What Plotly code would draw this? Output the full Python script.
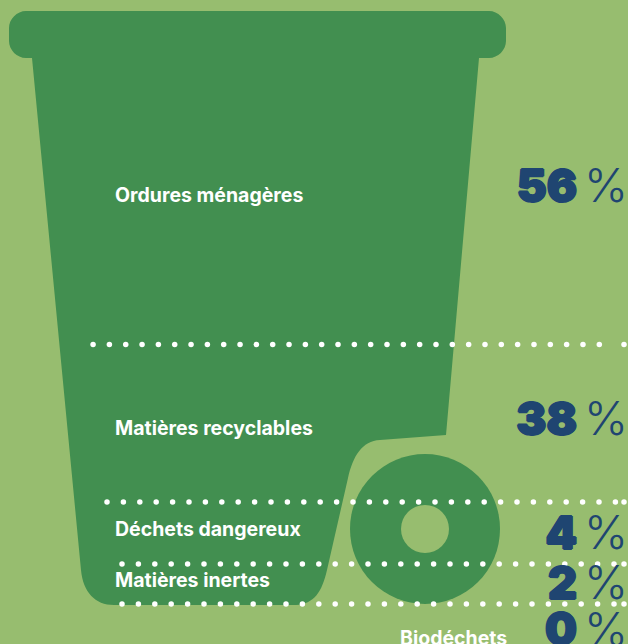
import plotly.graph_objects as go

# data
categories = ["Ordures ménagères", "Matières recyclables", "Déchets dangereux", "Matières inertes", "Biodéchets"]
percent_values = [56, 38, 4, 2, 0]

# layout helpers (page pixels)
W, H = 628, 644
BG, BIN, NAVY = "#97BD6F", "#428F50", "#1F4571"
label_x = [115, 115, 115, 115, 400]
label_y = [197.5, 430.5, 531.5, 582.5, 640]
value_y = [190.5, 423.5, 537.5, 587.5, 634]
dot_rows = [(344.5, 436 - 16.33 * 21, 16.33, 32), (502, 107, 16.4, 32), (564, 122, 16.4, 31), (604, 122, 16.4, 31)]
dot_tails = [(344.5, 624), (502, 624), (564, 624), (604, 624)]

bin_path = ("M 26 11 L 489 11 C 498 11 506 19 506 28 L 506 41 C 506 50 498 58 489 58 L 479 58 L 446 435 "
            "L 380 440 C 362 441 353 456 348 478 L 327 570 C 322 592 314 604 296 605 L 114 605 "
            "C 95 605 83 592 81 570 L 32 58 L 26 58 C 17 58 9 50 9 41 L 9 28 C 9 19 17 11 26 11 Z")

shapes = [
    dict(type="path", path=bin_path, fillcolor=BIN, line_width=0, layer="below"),
    dict(type="circle", x0=350, x1=500, y0=454, y1=604, fillcolor=BIN, line_width=0, layer="below"),
    dict(type="circle", x0=401, x1=449, y0=505, y1=553, fillcolor=BG, line_width=0, layer="below"),
]

fig = go.Figure()
dx, dy = [], []
for y, start, step, n in dot_rows:
    for i in range(n):
        dx.append(start + step * i)
        dy.append(y)
for y, x in dot_tails:
    dx.append(x)
    dy.append(y)
fig.add_trace(go.Scatter(x=dx, y=dy, mode="markers", marker=dict(color="white", size=5.5, line_width=0), hoverinfo="skip"))

fig.add_trace(go.Scatter(x=label_x, y=label_y, mode="text", text=categories, textposition="middle right",
                         textfont=dict(family="Inter", size=19.5, color="white", weight=700), hoverinfo="skip"))
heavy = f"1px 0 {NAVY}, -1px 0 {NAVY}, 0 1px {NAVY}, 0 -1px {NAVY}"
fig.add_trace(go.Scatter(x=[577] * 5, y=value_y, mode="text", text=[str(v) for v in percent_values],
                         textposition="middle left",
                         textfont=dict(family="Inter", size=45, color=NAVY, weight=900, shadow=heavy), hoverinfo="skip"))
fig.add_trace(go.Scatter(x=[584] * 5, y=value_y, mode="text", text=["%"] * 5, textposition="middle right",
                         textfont=dict(family="Inter", size=47, color=NAVY, weight=300), hoverinfo="skip"))

fig.update_layout(width=W, height=H, autosize=False, margin=dict(l=0, r=0, t=0, b=0), showlegend=False,
                  paper_bgcolor=BG, plot_bgcolor=BG, shapes=shapes,
                  xaxis=dict(range=[0, W], visible=False, fixedrange=True),
                  yaxis=dict(range=[H, 0], visible=False, fixedrange=True))
fig.write_html("out.html", config=dict(displayModeBar=False),
               post_script="document.body.style.margin='0';document.documentElement.style.background='" + BG + "';")
